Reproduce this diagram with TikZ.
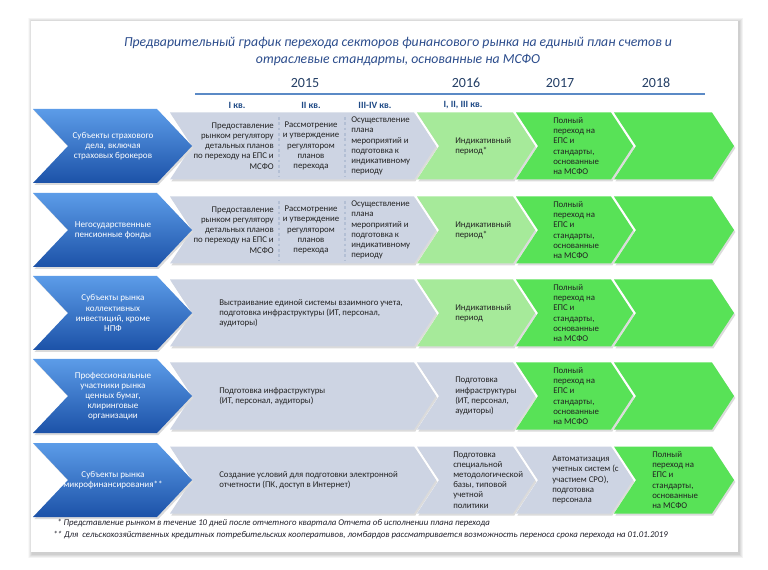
\documentclass[tikz,border=0pt]{standalone}
\usepackage{fontspec}
\setmainfont{Carlito}
\usepackage{xcolor}
\usepackage{tikz}
\usetikzlibrary{positioning, calc}

\definecolor{bluetop}{HTML}{5C9CE8}
\definecolor{bluebot}{HTML}{1C52A8}
\definecolor{planfill}{HTML}{CDD4E3}
\definecolor{indicfill}{HTML}{A6EA9A}
\definecolor{fullfill}{HTML}{58E257}
\definecolor{sepcol}{HTML}{B3BFD4}
\definecolor{titlecol}{HTML}{2B4C8C}
\definecolor{yearcol}{HTML}{243F66}
\definecolor{quartercol}{HTML}{1F4A86}
\definecolor{rulecol}{HTML}{5B8AC6}
\definecolor{stagetext}{HTML}{222222}
\definecolor{notecol}{HTML}{1E1E2A}

% chevron: style, left x, top right x, centre y, half height, point depth
\newcommand{\chev}[6]{%
  \fill[black!14, xshift=1pt, yshift=-1.5pt] (#2,{#4-#5}) -- (#3,{#4-#5}) -- ({#3+#6},#4)
    -- (#3,{#4+#5}) -- (#2,{#4+#5}) -- ({#2+#6},#4) -- cycle;
  \path[#1] (#2,{#4-#5}) -- (#3,{#4-#5}) -- ({#3+#6},#4)
    -- (#3,{#4+#5}) -- (#2,{#4+#5}) -- ({#2+#6},#4) -- cycle;}

\begin{document}
\begin{tikzpicture}[x=0.75pt, y=-0.75pt,
	subj/.style={top color=bluetop, bottom color=bluebot},
	plan/.style={fill=planfill},
	indic/.style={fill=indicfill},
	full/.style={fill=fullfill},
	subjtxt/.style={text=white, align=center, inner sep=0pt, font=\fontsize{6.8}{7.6}\selectfont},
	stagetxt/.style={text=stagetext, align=left, anchor=west, inner sep=0pt, font=\fontsize{6.6}{7.6}\selectfont},
	quarter/.style={text=quartercol, inner sep=0pt, font=\bfseries\fontsize{7.2}{8}\selectfont},
	yr/.style={text=yearcol, inner sep=0pt, font=\fontsize{10.5}{12}\selectfont},
	sep/.style={draw=sepcol, line width=2pt, dash pattern=on 2pt off 2pt},
	note/.style={anchor=west, inner sep=0pt, text=notecol, font=\itshape\fontsize{6.6}{8}\selectfont}]

	\useasboundingbox (0,0) rectangle (768,570);
	\fill[white] (0,0) rectangle (768,570);
	% card with its soft shadow
	\foreach \s in {1,...,8}
		\fill[black, opacity=0.025] ({31-\s/2+1},{21-\s/2+1}) rectangle ({738+\s/2+1},{552+\s/2+2});
	\fill[white] (31,21) rectangle (738,552);

	% heading
	\node[text=titlecol, align=center, inner sep=0pt, font=\itshape\fontsize{10.3}{12.8}\selectfont] (title) at (398,51.5)
		{Предварительный график перехода секторов финансового рынка на единый план счетов и\\отраслевые стандарты, основанные на МСФО};

	\node[yr] (y2015) at (305,83) {2015};
	\node[yr] (y2016) at (466,83) {2016};
	\node[yr] (y2017) at (560,83) {2017};
	\node[yr] (y2018) at (656,83) {2018};
	\coordinate (rulel) at (195,94);
	\coordinate (ruler) at (705,94);
	\draw[rulecol, line width=1.3pt] (rulel) -- (ruler);

	\node[quarter] (q1) at (237,105) {I кв.};
	\node[quarter] (q2) at (311,105) {II кв.};
	\node[quarter] (q34) at (375,105) {III-IV кв.};
	\node[quarter] (q16) at (463,105) {I, II, III кв.};

	% row 1
	\chev{plan}{170}{414}{146}{33.5}{22}
	\chev{indic}{417}{513}{146}{33.5}{22}
	\chev{full}{516}{611}{146}{33.5}{22}
	\chev{full}{614}{712}{146}{33.5}{22}
	\chev{subj}{33}{157}{146}{37}{35}
	\draw[sep] (279,117) -- (279,177);
	\draw[sep] (345,117) -- (345,177);
	\node[subjtxt] (subj1) at (113,146) {Субъекты страхового\\дела, включая\\страховых брокеров};
	\node[stagetxt, anchor=east, align=right] (plan1a) at (274,146) {Предоставление\\рынком регулятору\\детальных планов\\по переходу на ЕПС и\\МСФО};
	\node[stagetxt, anchor=center, align=center] (plan1b) at (311,146) {Рассмотрение\\и утверждение\\регулятором\\планов\\перехода};
	\node[stagetxt] (plan1c) at (351,146) {Осуществление\\плана\\мероприятий и\\подготовка к\\индикативному\\периоду};
	\node[stagetxt] (indic1) at (455,146) {Индикативный\\период*};
	\node[stagetxt] (full1) at (553,146) {Полный\\переход на\\ЕПС и\\стандарты,\\основанные\\на МСФО};

	% row 2
	\chev{plan}{170}{414}{230}{33.5}{22}
	\chev{indic}{417}{513}{230}{33.5}{22}
	\chev{full}{516}{611}{230}{33.5}{22}
	\chev{full}{614}{712}{230}{33.5}{22}
	\chev{subj}{33}{157}{230}{37}{35}
	\draw[sep] (279,201) -- (279,261);
	\draw[sep] (345,201) -- (345,261);
	\node[subjtxt] (subj2) at (113,230) {Негосударственные\\пенсионные фонды};
	\node[stagetxt, anchor=east, align=right] (plan2a) at (274,230) {Предоставление\\рынком регулятору\\детальных планов\\по переходу на ЕПС и\\МСФО};
	\node[stagetxt, anchor=center, align=center] (plan2b) at (311,230) {Рассмотрение\\и утверждение\\регулятором\\планов\\перехода};
	\node[stagetxt] (plan2c) at (351,230) {Осуществление\\плана\\мероприятий и\\подготовка к\\индикативному\\периоду};
	\node[stagetxt] (indic2) at (455,230) {Индикативный\\период*};
	\node[stagetxt] (full2) at (553,230) {Полный\\переход на\\ЕПС и\\стандарты,\\основанные\\на МСФО};

	% row 3
	\chev{plan}{170}{414}{313}{33.5}{22}
	\chev{indic}{417}{513}{313}{33.5}{22}
	\chev{full}{516}{611}{313}{33.5}{22}
	\chev{full}{614}{712}{313}{33.5}{22}
	\chev{subj}{33}{157}{313}{37}{35}
	\node[subjtxt] (subj3) at (113,313) {Субъекты рынка\\коллективных\\инвестиций, кроме\\НПФ};
	\node[stagetxt] (plan3) at (219,313) {Выстраивание единой системы взаимного учета,\\подготовка инфраструктуры (ИТ, персонал,\\аудиторы)};
	\node[stagetxt] (indic3) at (455,313) {Индикативный\\период};
	\node[stagetxt] (full3) at (553,313) {Полный\\переход на\\ЕПС и\\стандарты,\\основанные\\на МСФО};

	% row 4
	\chev{plan}{170}{414}{396}{33.5}{22}
	\chev{plan}{417}{513}{396}{33.5}{22}
	\chev{full}{516}{611}{396}{33.5}{22}
	\chev{full}{614}{712}{396}{33.5}{22}
	\chev{subj}{33}{157}{396}{37}{35}
	\node[subjtxt] (subj4) at (113,396) {Профессиональные\\участники рынка\\ценных бумаг,\\клиринговые\\организации};
	\node[stagetxt] (plan4a) at (219,396) {Подготовка инфраструктуры\\(ИТ, персонал, аудиторы)};
	\node[stagetxt] (plan4b) at (455,396) {Подготовка\\инфраструктуры\\(ИТ, персонал,\\аудиторы)};
	\node[stagetxt] (full4) at (553,396) {Полный\\переход на\\ЕПС и\\стандарты,\\основанные\\на МСФО};

	% row 5
	\chev{plan}{170}{414}{480}{33.5}{22}
	\chev{plan}{417}{513}{480}{33.5}{22}
	\chev{plan}{516}{611}{480}{33.5}{22}
	\chev{full}{614}{712}{480}{33.5}{22}
	\chev{subj}{33}{157}{480}{37}{35}
	\node[subjtxt] (subj5) at (113,480) {Субъекты рынка\\микрофинансирования**};
	\node[stagetxt] (plan5a) at (219,480) {Создание условий для подготовки электронной\\отчетности (ПК, доступ в Интернет)};
	\node[stagetxt] (plan5b) at (453,480) {Подготовка\\специальной\\методологической\\базы, типовой\\учетной\\политики};
	\node[stagetxt] (plan5c) at (552,480) {Автоматизация\\учетных систем (с\\участием СРО),\\подготовка\\персонала};
	\node[stagetxt] (full5) at (652,480) {Полный\\переход на\\ЕПС и\\стандарты,\\основанные\\на МСФО};

	% footnotes
	\node[note] (note1) at (57,523) {* Представление рынком в течение 10 дней после отчетного квартала Отчета об исполнении плана перехода};
	\node[note] (note2) at (53,535) {** Для~ сельскохозяйственных кредитных потребительских кооперативов, ломбардов рассматривается возможность переноса срока перехода на 01.01.2019};
\end{tikzpicture}
\end{document}
